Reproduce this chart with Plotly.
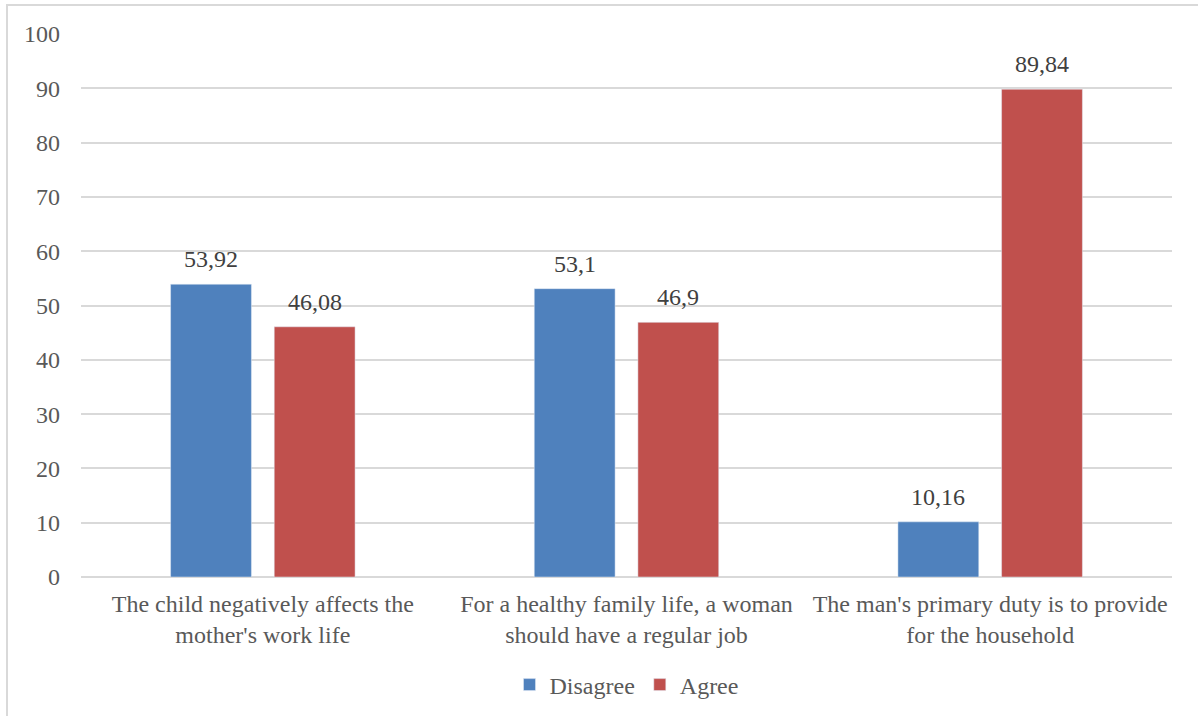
import plotly.graph_objects as go

categories = [
    "The child negatively affects the<br>mother's work life",
    "For a healthy family life, a woman<br>should have a regular job",
    "The man's primary duty is to provide<br>for the household",
]
disagree = [53.92, 53.1, 10.16]
agree = [46.08, 46.9, 89.84]
y_ticks = list(range(0, 101, 10))

FONT = "Liberation Serif, Times New Roman, serif"
TEXT_COLOR = "#595959"
LABEL_COLOR = "#404040"


def fmt(v):
    return f"{v:g}".replace(".", ",")


W, H = 1198, 716
ml, mr, mt, mb = 81, 26, 34, 139
pw, ph = W - ml - mr, H - mt - mb

BARGAP, GROUPGAP = 0.43, 0.22
slot_px = (1 - BARGAP) * (pw / len(categories)) / 2

fig = go.Figure()
fig.add_trace(go.Bar(name="Disagree", x=categories, y=disagree,
                     marker=dict(color="#4F81BD")))
fig.add_trace(go.Bar(name="Agree", x=categories, y=agree,
                     marker=dict(color="#C0504D")))

# value labels above each bar
annotations = []
for series, offset in ((disagree, -slot_px / 2), (agree, slot_px / 2)):
    for cat, v in zip(categories, series):
        annotations.append(dict(
            x=cat, y=v, xref="x", yref="y", text=fmt(v), showarrow=False,
            xshift=offset, yshift=10, yanchor="bottom",
            font=dict(family=FONT, size=24, color=LABEL_COLOR),
        ))

fig.update_layout(
    width=W, height=H,
    margin=dict(l=ml, r=mr, t=mt, b=mb, pad=0, autoexpand=False),
    paper_bgcolor="white", plot_bgcolor="white",
    barmode="group", bargap=BARGAP, bargroupgap=GROUPGAP,
    font=dict(family=FONT, size=24, color=TEXT_COLOR),
    showlegend=True,
    legend=dict(
        orientation="h", x=0.5, xanchor="center",
        y=(577 - 685) / ph, yanchor="middle",
        font=dict(family=FONT, size=24, color=TEXT_COLOR),
        traceorder="normal",
    ),
    xaxis=dict(
        showgrid=False, showline=False, ticks="", ticklabelstandoff=10,
        tickfont=dict(family=FONT, size=24, color=TEXT_COLOR),
    ),
    yaxis=dict(
        range=[0, 100], tickvals=y_ticks, showgrid=True,
        gridcolor="#D9D9D9", gridwidth=1.5,
        zeroline=True, zerolinecolor="#D9D9D9", zerolinewidth=1.5,
        showline=False, ticks="", ticklabelstandoff=20,
        tickfont=dict(family=FONT, size=24, color=TEXT_COLOR),
    ),
    annotations=annotations,
    shapes=[dict(
        type="rect", xref="paper", yref="paper",
        x0=(7 - ml) / pw, x1=(W + 10 - ml) / pw,
        y0=-(mb + 10) / ph, y1=1 + (mt - 5) / ph,
        line=dict(color="#D9D9D9", width=2), fillcolor="rgba(0,0,0,0)",
        layer="below",
    )],
)

fig.write_html("out.html")
